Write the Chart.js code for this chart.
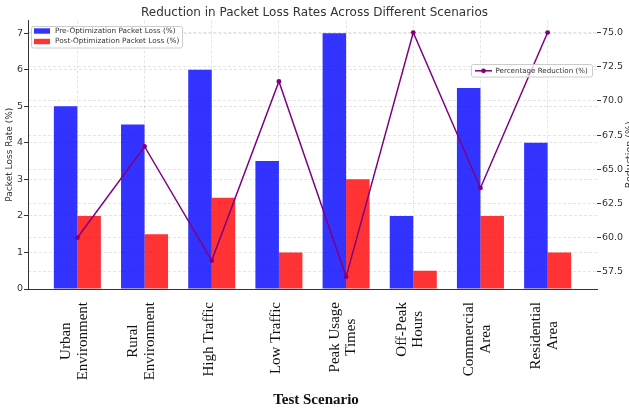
<!DOCTYPE html>
<html>
<head>
<meta charset="utf-8">
<script src="https://cdn.jsdelivr.net/npm/chart.js@4.4.1/dist/chart.umd.min.js"></script>
<style>
  html, body { margin: 0; padding: 0; background: #ffffff; }
  #c { display: block; }
</style>
</head>
<body>
<canvas id="c" width="629" height="410"></canvas>
<script>
// Test scenarios (each entry holds the lines of its axis label)
const scenarios = [
  ['Urban', 'Environment'],
  ['Rural', 'Environment'],
  ['High Traffic'],
  ['Low Traffic'],
  ['Peak Usage', 'Times'],
  ['Off-Peak', 'Hours'],
  ['Commercial', 'Area'],
  ['Residential', 'Area']
];
// Packet loss before and after optimization (%)
const preLoss = [5, 4.5, 6, 3.5, 7, 2, 5.5, 4];
const postLoss = [2, 1.5, 2.5, 1, 3, 0.5, 2, 1];
// Percentage reduction per scenario (%)
const reduction = [60.0, 66.67, 58.33, 71.43, 57.14, 75.0, 63.64, 75.0];
// Tick values for both value axes
const lossTicks = [0, 1, 2, 3, 4, 5, 6, 7];
const reductionTicks = [57.5, 60.0, 62.5, 65.0, 67.5, 70.0, 72.5, 75.0];

const SANS = '"DejaVu Sans", sans-serif';
const SERIF = '"Liberation Serif", "Times New Roman", serif';
const GRID = 'rgba(0,0,0,0.10)';
const INK = '#333333';

const PRE_COLOR = 'rgba(0,0,255,0.8)';
const POST_COLOR = 'rgba(255,0,0,0.8)';
const LINE_COLOR = '#800080';

const toPoints = (vals) => vals.map((v, i) => ({ x: i, y: v }));

function roundBox(ctx, x, y, w, h, r) {
  ctx.beginPath();
  ctx.moveTo(x + r, y);
  ctx.lineTo(x + w - r, y);
  ctx.quadraticCurveTo(x + w, y, x + w, y + r);
  ctx.lineTo(x + w, y + h - r);
  ctx.quadraticCurveTo(x + w, y + h, x + w - r, y + h);
  ctx.lineTo(x + r, y + h);
  ctx.quadraticCurveTo(x, y + h, x, y + h - r);
  ctx.lineTo(x, y + r);
  ctx.quadraticCurveTo(x, y, x + r, y);
  ctx.closePath();
}

// Legends, category labels and the outer axis titles
const decorations = {
  id: 'decorations',
  afterDraw(chart) {
    const ctx = chart.ctx;
    const xs = chart.scales.x;
    const ds = chart.data.datasets;

    // Bar legend (upper left)
    ctx.save();
    roundBox(ctx, 31.5, 26.5, 151, 21.5, 2);
    ctx.fillStyle = 'rgba(255,255,255,0.8)';
    ctx.fill();
    ctx.strokeStyle = '#cccccc';
    ctx.lineWidth = 1;
    ctx.stroke();
    ctx.font = '7.3px ' + SANS;
    ctx.textBaseline = 'middle';
    ctx.textAlign = 'left';
    [[ds[0], 31], [ds[1], 41.5]].forEach(([d, y]) => {
      ctx.fillStyle = d.backgroundColor;
      ctx.fillRect(34, y - 2.7, 16, 5.4);
      ctx.fillStyle = INK;
      ctx.fillText(d.label, 55, y);
    });
    ctx.restore();

    // Line legend (right)
    ctx.save();
    roundBox(ctx, 471.5, 64.5, 121, 12.5, 2);
    ctx.fillStyle = 'rgba(255,255,255,0.8)';
    ctx.fill();
    ctx.strokeStyle = '#cccccc';
    ctx.lineWidth = 1;
    ctx.stroke();
    ctx.strokeStyle = ds[2].borderColor;
    ctx.lineWidth = 1.5;
    ctx.beginPath();
    ctx.moveTo(475, 70.8);
    ctx.lineTo(492, 70.8);
    ctx.stroke();
    ctx.fillStyle = ds[2].borderColor;
    ctx.beginPath();
    ctx.arc(483.5, 70.8, 2.4, 0, Math.PI * 2);
    ctx.fill();
    ctx.font = '7.1px ' + SANS;
    ctx.textBaseline = 'middle';
    ctx.textAlign = 'left';
    ctx.fillStyle = INK;
    ctx.fillText(ds[2].label, 495.5, 71);
    ctx.restore();

    // Category labels, rotated, lines centred within each block
    ctx.save();
    ctx.font = '15px ' + SERIF;
    ctx.fillStyle = '#111111';
    ctx.textAlign = 'center';
    ctx.textBaseline = 'middle';
    const lh = 16.5;
    const top = xs.top + 13;
    scenarios.forEach((lines, i) => {
      const px = xs.getPixelForValue(i) - 3;
      const maxW = Math.max(...lines.map(l => ctx.measureText(l).width));
      const yc = top + maxW / 2;
      lines.forEach((line, j) => {
        const lx = px + (j - (lines.length - 1) / 2) * lh;
        ctx.save();
        ctx.translate(lx, yc);
        ctx.rotate(-Math.PI / 2);
        ctx.fillText(line, 0, 0);
        ctx.restore();
      });
    });
    // x axis title
    ctx.font = 'bold 15px ' + SERIF;
    ctx.fillText('Test Scenario', 316, 400);
    ctx.restore();

    // Right axis title, reading upwards along the right edge
    const ys = chart.scales.y1;
    ctx.save();
    ctx.font = '9.5px ' + SANS;
    ctx.fillStyle = INK;
    ctx.textAlign = 'center';
    ctx.textBaseline = 'alphabetic';
    ctx.translate(632, (ys.top + ys.bottom) / 2);
    ctx.rotate(-Math.PI / 2);
    ctx.fillText('Reduction (%)', 0, 0);
    ctx.restore();
  }
};

new Chart(document.getElementById('c'), {
  type: 'bar',
  data: {
    datasets: [
      {
        label: 'Pre-Optimization Packet Loss (%)',
        data: toPoints(preLoss),
        backgroundColor: PRE_COLOR,
        borderWidth: 0,
        categoryPercentage: 0.7,
        barPercentage: 1.0,
        yAxisID: 'y',
        order: 1
      },
      {
        label: 'Post-Optimization Packet Loss (%)',
        data: toPoints(postLoss),
        backgroundColor: POST_COLOR,
        borderWidth: 0,
        categoryPercentage: 0.7,
        barPercentage: 1.0,
        yAxisID: 'y',
        order: 1
      },
      {
        type: 'line',
        label: 'Percentage Reduction (%)',
        data: toPoints(reduction),
        borderColor: LINE_COLOR,
        backgroundColor: LINE_COLOR,
        borderWidth: 1.5,
        pointRadius: 2.4,
        pointBackgroundColor: LINE_COLOR,
        pointBorderWidth: 0,
        tension: 0,
        fill: false,
        yAxisID: 'y1',
        order: 0
      }
    ]
  },
  options: {
    responsive: false,
    animation: false,
    devicePixelRatio: 1,
    layout: { padding: 0 },
    plugins: {
      legend: { display: false },
      tooltip: { enabled: false },
      title: {
        display: true,
        text: 'Reduction in Packet Loss Rates Across Different Scenarios',
        color: INK,
        font: { family: SANS, size: 12, weight: 'normal', lineHeight: 1.2 },
        padding: { top: 6, bottom: 0 }
      }
    },
    scales: {
      x: {
        type: 'linear',
        min: -0.735,
        max: 7.735,
        offset: false,
        afterBuildTicks: (s) => { s.ticks = scenarios.map((_, i) => ({ value: i })); },
        afterFit: (s) => { s.height = 121; },
        ticks: { display: false },
        grid: { color: GRID, lineWidth: 1, drawTicks: false, offset: false },
        border: { display: true, color: INK, width: 1, dash: [3, 2] }
      },
      y: {
        type: 'linear',
        position: 'left',
        min: 0,
        max: 7.35,
        afterBuildTicks: (s) => { s.ticks = lossTicks.map(v => ({ value: v })); },
        afterFit: (s) => { s.width = 28; },
        ticks: { color: INK, font: { family: SANS, size: 9.5 }, padding: 1 },
        grid: { color: GRID, lineWidth: 1, tickColor: INK, tickLength: 4, tickWidth: 1 },
        border: { display: true, color: INK, width: 1, dash: [3, 2] },
        title: {
          display: true,
          text: 'Packet Loss Rate (%)',
          color: INK,
          font: { family: SANS, size: 9, lineHeight: 1.2 },
          padding: { top: 4.5, bottom: 0 }
        }
      },
      y1: {
        type: 'linear',
        position: 'right',
        min: 56.25,
        max: 75.89,
        afterBuildTicks: (s) => { s.ticks = reductionTicks.map(v => ({ value: v })); },
        afterFit: (s) => { s.width = 32; },
        ticks: {
          color: INK,
          font: { family: SANS, size: 9.5 },
          padding: 1,
          callback: (v) => Number(v).toFixed(1)
        },
        grid: { color: GRID, lineWidth: 1, tickColor: INK, tickLength: 4, tickWidth: 1, drawOnChartArea: true },
        border: { display: false, dash: [3, 2] }
      }
    }
  },
  plugins: [decorations]
});
</script>
</body>
</html>
